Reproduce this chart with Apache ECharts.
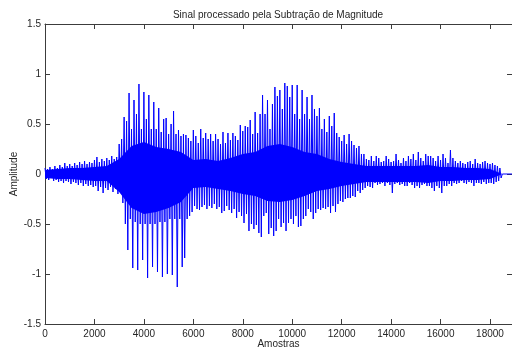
<!DOCTYPE html>
<html>
<head>
<meta charset="utf-8">
<title>Sinal processado pela Subtração de Magnitude</title>
<script src="https://cdn.jsdelivr.net/npm/echarts@6/dist/echarts.min.js"></script>
<style>
  html, body { margin: 0; padding: 0; background: #ffffff; }
  #chart { width: 512px; height: 349px; }
</style>
</head>
<body>
<div id="chart"></div>
<script>
// Waveform envelope: the signal is summarised in blocks of 100 samples.
// For each block, the positive peak (sigHigh) and negative peak (sigLow).
const samplesPerBlock = 100;

const sigHigh = [
  0.06, 0.05, 0.07, 0.05, 0.08, 0.06, 0.09, 0.07, 0.11, 0.08,
  0.10, 0.08, 0.11, 0.09, 0.12, 0.10, 0.13, 0.10, 0.12, 0.11,
  0.14, 0.17, 0.12, 0.15, 0.13, 0.16, 0.14, 0.18, 0.15, 0.17,
  0.30, 0.35, 0.57, 0.53, 0.81, 0.45, 0.74, 0.60, 0.90, 0.45,
  0.82, 0.55, 0.79, 0.45, 0.72, 0.45, 0.66, 0.42, 0.55, 0.56,
  0.40, 0.50, 0.63, 0.40, 0.44, 0.38, 0.40, 0.39, 0.36, 0.33,
  0.44, 0.38, 0.31, 0.45, 0.36, 0.41, 0.35, 0.40, 0.33, 0.40,
  0.35, 0.30, 0.42, 0.31, 0.41, 0.34, 0.41, 0.38, 0.34, 0.49,
  0.43, 0.48, 0.47, 0.54, 0.40, 0.62, 0.41, 0.60, 0.79, 0.60,
  0.74, 0.45, 0.70, 0.87, 0.78, 0.84, 0.65, 0.91, 0.88, 0.77,
  0.89, 0.60, 0.89, 0.55, 0.84, 0.60, 0.77, 0.55, 0.79, 0.65,
  0.58, 0.66, 0.45, 0.55, 0.42, 0.58, 0.48, 0.61, 0.41, 0.37,
  0.33, 0.39, 0.30, 0.40, 0.33, 0.29, 0.26, 0.28, 0.20, 0.20,
  0.15, 0.14, 0.18, 0.13, 0.18, 0.16, 0.12, 0.13, 0.18, 0.15,
  0.12, 0.13, 0.20, 0.14, 0.11, 0.16, 0.13, 0.18, 0.15, 0.20,
  0.14, 0.22, 0.16, 0.13, 0.20, 0.18, 0.18, 0.16, 0.13, 0.18,
  0.14, 0.20, 0.16, 0.11, 0.24, 0.16, 0.13, 0.11, 0.13, 0.11,
  0.10, 0.12, 0.13, 0.10, 0.15, 0.11, 0.10, 0.12, 0.13, 0.11,
  0.10, 0.11, 0.09, 0.08, 0.06
];

const sigLow = [
  -0.05, -0.06, -0.04, -0.07, -0.06, -0.08, -0.07, -0.09, -0.07, -0.08,
  -0.10, -0.08, -0.09, -0.11, -0.09, -0.12, -0.10, -0.12, -0.11, -0.13,
  -0.12, -0.17, -0.13, -0.19, -0.14, -0.16, -0.13, -0.18, -0.15, -0.20,
  -0.14, -0.29, -0.50, -0.76, -0.45, -0.94, -0.48, -0.96, -0.50, -0.86,
  -0.50, -1.04, -0.50, -0.93, -0.50, -0.98, -0.48, -1.03, -0.48, -1.00,
  -0.45, -1.01, -0.45, -1.13, -0.45, -0.93, -0.84, -0.45, -0.42, -0.38,
  -0.32, -0.35, -0.36, -0.33, -0.31, -0.35, -0.32, -0.34, -0.30, -0.35,
  -0.33, -0.39, -0.37, -0.32, -0.36, -0.39, -0.35, -0.44, -0.38, -0.42,
  -0.49, -0.40, -0.57, -0.50, -0.55, -0.51, -0.59, -0.63, -0.42, -0.39,
  -0.60, -0.54, -0.62, -0.57, -0.45, -0.53, -0.49, -0.57, -0.49, -0.45,
  -0.50, -0.42, -0.53, -0.52, -0.45, -0.42, -0.35, -0.38, -0.45, -0.39,
  -0.35, -0.36, -0.34, -0.35, -0.33, -0.39, -0.32, -0.38, -0.30, -0.27,
  -0.28, -0.25, -0.24, -0.24, -0.22, -0.23, -0.17, -0.19, -0.16, -0.14,
  -0.12, -0.13, -0.14, -0.09, -0.11, -0.10, -0.09, -0.12, -0.09, -0.11,
  -0.19, -0.10, -0.09, -0.11, -0.10, -0.12, -0.12, -0.09, -0.11, -0.14,
  -0.12, -0.14, -0.11, -0.10, -0.12, -0.12, -0.14, -0.17, -0.12, -0.14,
  -0.19, -0.12, -0.12, -0.10, -0.12, -0.09, -0.10, -0.09, -0.07, -0.09,
  -0.10, -0.08, -0.09, -0.12, -0.09, -0.09, -0.10, -0.08, -0.10, -0.09,
  -0.09, -0.10, -0.08, -0.07, -0.04
];

// Dense core of the waveform (where the samples overlap into a solid band),
// in blocks of 500 samples.
const samplesPerCoreBlock = 500;
const coreHigh = [
  0.04, 0.05, 0.06, 0.06, 0.07, 0.08, 0.15, 0.28, 0.32, 0.27,
  0.25, 0.22, 0.14, 0.15, 0.13, 0.16, 0.20, 0.22, 0.28, 0.30,
  0.27, 0.22, 0.20, 0.15, 0.12, 0.10, 0.08, 0.08, 0.08, 0.08,
  0.08, 0.09, 0.07, 0.07, 0.06, 0.06, 0.05, 0.00
];
const coreLow = [
  -0.04, -0.05, -0.05, -0.06, -0.07, -0.07, -0.18, -0.34, -0.40, -0.38,
  -0.34, -0.28, -0.14, -0.13, -0.15, -0.17, -0.20, -0.22, -0.27, -0.28,
  -0.26, -0.22, -0.17, -0.15, -0.12, -0.10, -0.08, -0.08, -0.08, -0.08,
  -0.08, -0.09, -0.07, -0.07, -0.06, -0.06, -0.05, 0.00
];

// Silent stretch after the last block, up to the end of the recording.
const tailSamples = [18500, 18890];
const tailValues = [0, 0];

// Axis limits and tick labels.
const sampleCount = 18890;
const xTickValues = [0, 2000, 4000, 6000, 8000, 10000, 12000, 14000, 16000, 18000];
const yTickValues = [-1.5, -1, -0.5, 0, 0.5, 1, 1.5];

const titleText = 'Sinal processado pela Subtração de Magnitude';
const xName = 'Amostras';
const yName = 'Amplitude';

// Trace: positive and negative peaks of every block, alternating.
const trace = [];
for (let i = 0; i < sigHigh.length; i++) {
  trace.push([i * samplesPerBlock, sigHigh[i]]);
  trace.push([i * samplesPerBlock + samplesPerBlock / 2, sigLow[i]]);
}
for (let k = 0; k < tailSamples.length; k++) {
  trace.push([tailSamples[k], tailValues[k]]);
}

const coreTop = coreHigh.map((v, j) => [j * samplesPerCoreBlock, v]);
const coreBottom = coreLow.map((v, j) => [j * samplesPerCoreBlock, v]);

const FONT = '"Liberation Sans", Arial, Helvetica, sans-serif';
const TEXT = '#262626';
const AXIS = '#3c3c3c';
const BLUE = '#0000ff';

const axisLineStyle = { color: AXIS, width: 1 };
const labelBase = { fontFamily: FONT, fontSize: 10, color: TEXT };

function xAxisDef(pos, showLabels) {
  return {
    type: 'value',
    position: pos,
    min: 0,
    max: sampleCount,
    interval: 2000,
    axisLine: { show: true, onZero: false, lineStyle: axisLineStyle },
    axisTick: { show: true, inside: true, length: 5, customValues: xTickValues, lineStyle: axisLineStyle },
    axisLabel: Object.assign({
      show: showLabels,
      margin: 5,
      customValues: xTickValues,
      formatter: v => String(v)
    }, labelBase),
    splitLine: { show: false }
  };
}

function yAxisDef(pos, showLabels) {
  return {
    type: 'value',
    position: pos,
    min: -1.5,
    max: 1.5,
    interval: 0.5,
    axisLine: { show: true, onZero: false, lineStyle: axisLineStyle },
    axisTick: { show: true, inside: true, length: 5, customValues: yTickValues, lineStyle: axisLineStyle },
    axisLabel: Object.assign({
      show: showLabels,
      margin: 4,
      customValues: yTickValues,
      formatter: v => String(v)
    }, labelBase),
    splitLine: { show: false }
  };
}

const xBottom = xAxisDef('bottom', true);
xBottom.name = xName;
xBottom.nameLocation = 'middle';
xBottom.nameGap = 15;
xBottom.nameMoveOverlap = false;
xBottom.nameTextStyle = labelBase;

const yLeft = yAxisDef('left', true);
yLeft.name = yName;
yLeft.nameLocation = 'middle';
yLeft.nameGap = 26;
yLeft.nameMoveOverlap = false;
yLeft.nameTextStyle = labelBase;

function coreSeries(data) {
  return {
    type: 'line',
    xAxisIndex: 0,
    yAxisIndex: 0,
    data: data,
    showSymbol: false,
    symbol: 'none',
    silent: true,
    clip: true,
    lineStyle: { width: 0, color: BLUE },
    areaStyle: { color: BLUE, opacity: 1, origin: 0 },
    z: 1
  };
}

const chart = echarts.init(document.getElementById('chart'), null, { renderer: 'canvas' });
chart.setOption({
  animation: false,
  backgroundColor: '#ffffff',
  title: {
    text: titleText,
    left: 278,
    top: 10,
    padding: 0,
    textAlign: 'center',
    textStyle: { fontFamily: FONT, fontSize: 10, fontWeight: 'normal', color: TEXT }
  },
  grid: {
    left: 45,
    top: 24,
    width: 467,
    height: 300,
    containLabel: false,
    outerBoundsMode: 'none'
  },
  xAxis: [xBottom, xAxisDef('top', false)],
  yAxis: [yLeft, yAxisDef('right', false)],
  series: [
    coreSeries(coreTop),
    coreSeries(coreBottom),
    {
      type: 'line',
      xAxisIndex: 0,
      yAxisIndex: 0,
      data: trace,
      showSymbol: false,
      symbol: 'none',
      sampling: 'none',
      clip: true,
      silent: true,
      lineStyle: { color: BLUE, width: 1 },
      z: 2
    }
  ]
});
</script>
</body>
</html>
